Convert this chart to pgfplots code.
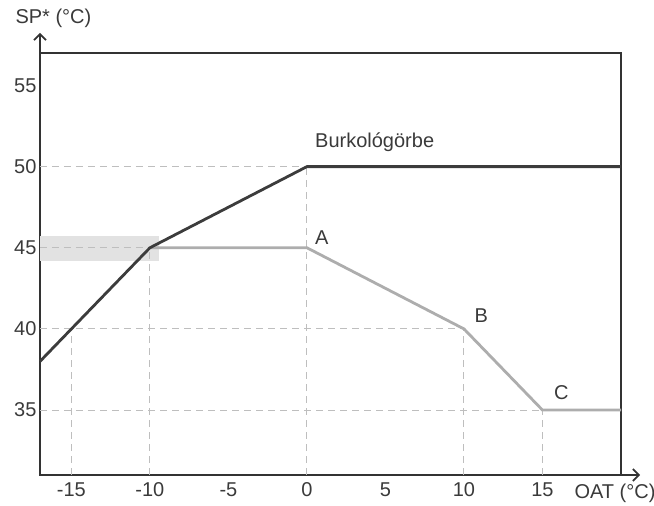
\documentclass[border=0pt]{standalone}
\usepackage{pgfplots}
\pgfplotsset{compat=1.18}
\usepackage{fontspec}
\setmainfont{Liberation Sans}
\usetikzlibrary{arrows.meta}
\definecolor{axc}{HTML}{333333}
\definecolor{txc}{HTML}{3A3A3A}
\definecolor{darkl}{HTML}{3C3C3C}
\definecolor{lightl}{HTML}{ADADAD}
\definecolor{gridc}{HTML}{BEBEBE}
\definecolor{bandc}{HTML}{E2E2E2}
\begin{document}
\begin{tikzpicture}
\begin{axis}[
  scale only axis,
  width=581pt, height=422pt,
  xmin=-17, xmax=20, ymin=31, ymax=57,
  xtick={-15,-10,-5,0,5,10,15},
  ytick={35,40,45,50,55},
  major tick length=0pt,
  axis line style={draw=axc, line width=1.6pt},
  tick label style={font=\fontsize{20}{23}\selectfont, text=txc},
  /pgf/number format/assume math mode=true,
  xticklabel style={yshift=-4pt},
  clip=false,
]
\addplot[fill=bandc, draw=none] coordinates {(-17,44.2) (-9.4,44.2) (-9.4,45.7) (-17,45.7)} -- cycle;
\pgfplotsset{gl/.style={draw=gridc, line width=1pt, dash pattern=on 7pt off 5pt}}
\addplot[gl] coordinates {(-17,50) (0,50)};
\addplot[gl] coordinates {(-17,45) (-10,45)};
\addplot[gl] coordinates {(-17,40) (10,40)};
\addplot[gl] coordinates {(-17,35) (15,35)};
\addplot[gl] coordinates {(-15,31) (-15,40)};
\addplot[gl] coordinates {(-10,31) (-10,45)};
\addplot[gl] coordinates {(0,31) (0,50)};
\addplot[gl] coordinates {(10,31) (10,40)};
\addplot[gl] coordinates {(15,31) (15,35)};
\addplot[lightl, line width=2.8pt] coordinates {(-10,45) (0,45) (10,40) (15,35) (20,35)};
\addplot[darkl, line width=2.8pt] coordinates {(-17,38) (-10,45) (0,50) (20,50)};
\node[anchor=west, text=txc, font=\fontsize{20}{23}\selectfont] at (axis cs:0.3,51.5) {Burkológörbe};
\node[text=txc, font=\fontsize{20}{23}\selectfont] at (axis cs:0.95,45.6) {A};
\node[text=txc, font=\fontsize{20}{23}\selectfont] at (axis cs:11.1,40.8) {B};
\node[text=txc, font=\fontsize{20}{23}\selectfont] at (axis cs:16.2,36.1) {C};
\end{axis}
\draw[axc, line width=1.6pt, -{Straight Barb[length=6pt,width=12pt]}] (current axis.north west) -- ++(0,20pt);
\draw[axc, line width=1.6pt, -{Straight Barb[length=6pt,width=12pt]}] (current axis.south east) -- ++(19pt,0);
\node[anchor=west, text=txc, font=\fontsize{20}{23}\selectfont] at ([shift={(-28pt,35pt)}]current axis.north west) {SP* (°C)};
\node[anchor=west, text=txc, font=\fontsize{20}{23}\selectfont] at ([shift={(-50pt,-18pt)}]current axis.south east) {OAT (°C)};
\pgfresetboundingbox
\path ([shift={(-40pt,-31pt)}]current axis.south west) rectangle ([shift={(33pt,53pt)}]current axis.north east);
\end{tikzpicture}
\end{document}
